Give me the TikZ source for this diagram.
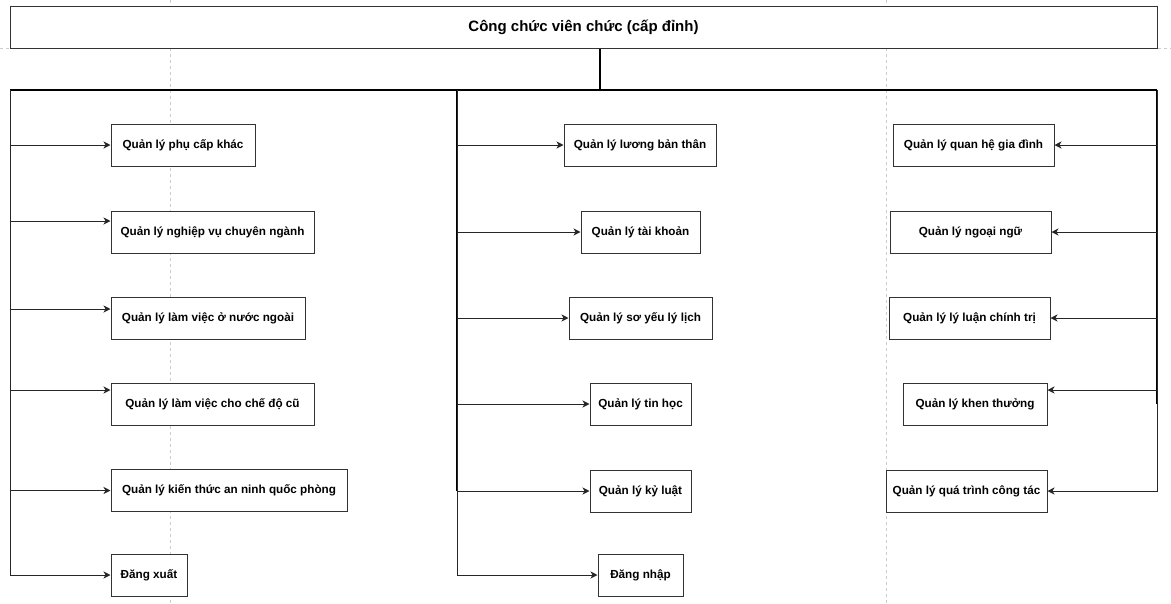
\documentclass[tikz,border=0pt]{standalone}
\usepackage{fontspec}
\setmainfont{Liberation Sans}
\usetikzlibrary{arrows.meta}

\begin{document}
\begin{tikzpicture}[x=1pt,y=-1pt,
  box/.style={draw=black!80,line width=1pt,fill=white,minimum height=42,inner sep=0pt,
    font=\fontsize{11.7}{14}\selectfont\bfseries},
  conn/.style={draw=black!85,line width=1pt,-{Stealth[length=7,width=7,inset=2]}},
  trunk/.style={draw=black,line width=2pt},
  guide/.style={draw=black!20,line width=1pt,dash pattern=on 3pt off 3pt}]
\useasboundingbox (0,0) rectangle (1171,603);

% page guides
\draw[guide] (170,0)--(170,603);
\draw[guide] (886,0)--(886,603);
\draw[guide] (0,48)--(1171,48);

\node[box,minimum width=1147,font=\fontsize{15}{17}\selectfont\bfseries] (top) at (583.5,27) {Công chức viên chức (cấp đỉnh)};

\coordinate (hub) at (600,90);
\coordinate (busL) at (10,90);
\coordinate (busM) at (457,90);
\coordinate (busR) at (1157,90);

% left column
\node[box,minimum width=144] (phucap) at (183,145) {Quản lý phụ cấp khác};
\node[box,minimum width=203] (nghiepvu) at (212.5,232) {Quản lý nghiệp vụ chuyên ngành};
\node[box,minimum width=194] (nuocngoai) at (208,318) {Quản lý làm việc ở nước ngoài};
\node[box,minimum width=203] (chedocu) at (212.5,404) {Quản lý làm việc cho chế độ cũ};
\node[box,minimum width=236] (anninh) at (229,490.5) {Quản lý kiến thức an ninh quốc phòng};
\node[box,minimum width=76] (dangxuat) at (149,575) {Đăng xuất};

% middle column
\node[box,minimum width=152] (luong) at (640,145) {Quản lý lương bản thân};
\node[box,minimum width=119] (taikhoan) at (640.5,232) {Quản lý tài khoản};
\node[box,minimum width=143] (soyeu) at (640.5,318) {Quản lý sơ yếu lý lịch};
\node[box,minimum width=101] (tinhoc) at (640.5,404) {Quản lý tin học};
\node[box,minimum width=101] (kyluat) at (640.5,491) {Quản lý kỷ luật};
\node[box,minimum width=85] (dangnhap) at (640.5,575) {Đăng nhập};

% right column
\node[box,minimum width=161] (quanhe) at (973.5,145) {Quản lý quan hệ gia đình};
\node[box,minimum width=161] (ngoaingu) at (970.5,232) {Quản lý ngoại ngữ};
\node[box,minimum width=161] (lyluan) at (969.5,318) {Quản lý lý luận chính trị};
\node[box,minimum width=144] (khenthuong) at (975,404) {Quản lý khen thưởng};
\node[box,minimum width=161] (quatrinh) at (966.5,491) {Quản lý quá trình công tác};

\draw[trunk] (top.south -| hub)--(hub);
\draw[trunk] (busL)--(busR);
\draw[trunk] (busM)--(busM |- kyluat.west);
\draw[trunk] (busR)--(busR |- khenthuong.east);

\draw[conn] (busL) |- (phucap.west);
\draw[conn] (busL) |- ([yshift=11]nghiepvu.west);
\draw[conn] (busL) |- ([yshift=9]nuocngoai.west);
\draw[conn] (busL) |- ([yshift=14]chedocu.west);
\draw[conn] (busL) |- (anninh.west);
\draw[conn] (busL) |- (dangxuat.west);

\draw[conn] (busM) |- (luong.west);
\draw[conn] (busM) |- (taikhoan.west);
\draw[conn] (busM) |- (soyeu.west);
\draw[conn] (busM) |- (tinhoc.west);
\draw[conn] (busM) |- (kyluat.west);
\draw[conn] (busM) |- (dangnhap.west);

\draw[conn] (busR) |- (quanhe.east);
\draw[conn] (busR) |- (ngoaingu.east);
\draw[conn] (busR) |- (lyluan.east);
\draw[conn] (busR) |- ([yshift=14]khenthuong.east);
\draw[conn] (busR) |- (quatrinh.east);
\end{tikzpicture}
\end{document}
